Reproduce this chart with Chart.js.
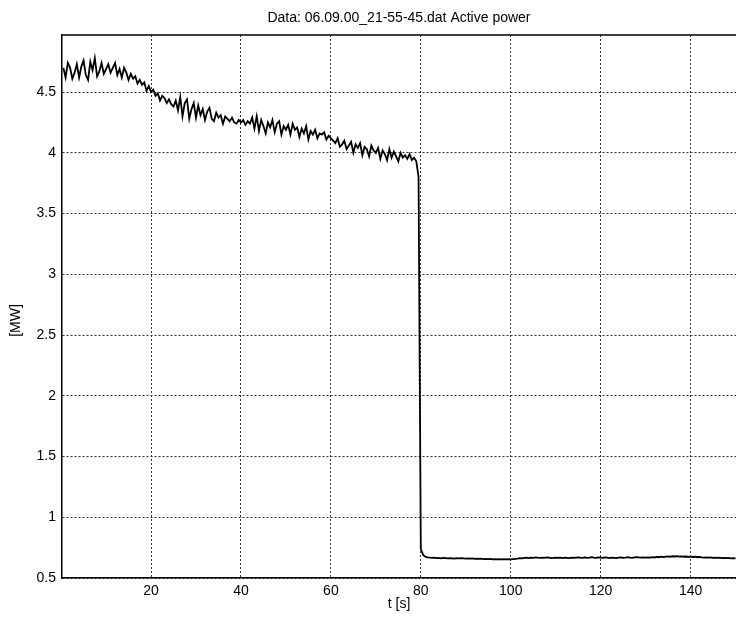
<!DOCTYPE html>
<html>
<head>
<meta charset="utf-8">
<title>Active power</title>
<script src="https://cdn.jsdelivr.net/npm/chart.js@4.4.0/dist/chart.umd.min.js"></script>
<style>
  html, body { margin: 0; padding: 0; background: #fff; overflow: hidden; }
  canvas { display: block; }
</style>
</head>
<body>
<canvas id="power" width="736" height="621"></canvas>
<script>
// sampled every 0.5 s starting at t = 0.5 s
const sampleStart = 0.5;
const sampleStep = 0.5;

// active power [MW], one row = 10 s
const powerValues = [
  4.70, 4.62, 4.74, 4.70, 4.61, 4.66, 4.73, 4.62, 4.71, 4.76, 4.64, 4.60, 4.75, 4.68, 4.78, 4.63, 4.67, 4.74, 4.65, 4.69,
  4.73, 4.66, 4.70, 4.74, 4.64, 4.69, 4.62, 4.70, 4.66, 4.60, 4.65, 4.61, 4.63, 4.57, 4.60, 4.56, 4.58, 4.51, 4.55, 4.50,
  4.52, 4.47, 4.49, 4.43, 4.47, 4.45, 4.41, 4.44, 4.40, 4.38, 4.43, 4.35, 4.46, 4.30, 4.41, 4.44, 4.28, 4.36, 4.41, 4.29,
  4.39, 4.31, 4.36, 4.27, 4.34, 4.37, 4.28, 4.26, 4.33, 4.29, 4.31, 4.24, 4.30, 4.28, 4.26, 4.29, 4.25, 4.24, 4.27, 4.25,
  4.27, 4.23, 4.26, 4.24, 4.29, 4.20, 4.30, 4.18, 4.27, 4.22, 4.16, 4.25, 4.21, 4.27, 4.17, 4.24, 4.26, 4.15, 4.22, 4.19,
  4.23, 4.15, 4.24, 4.19, 4.21, 4.13, 4.20, 4.16, 4.22, 4.11, 4.18, 4.15, 4.19, 4.12, 4.16, 4.15, 4.17, 4.11, 4.14, 4.12,
  4.10, 4.08, 4.12, 4.05, 4.07, 4.10, 4.03, 4.06, 4.09, 4.00, 4.07, 4.04, 4.08, 3.98, 4.05, 4.03, 3.97, 4.06, 4.02, 4.00,
  4.04, 3.95, 4.02, 3.99, 3.94, 4.03, 3.96, 4.01, 3.97, 3.93, 4.00, 3.96, 3.98, 3.95, 3.99, 3.94, 3.96, 3.93, 3.80, 0.74,
  0.69, 0.675, 0.670, 0.668, 0.665, 0.667, 0.664, 0.666, 0.662, 0.665, 0.663, 0.661, 0.664, 0.662, 0.660, 0.663, 0.661, 0.664, 0.662, 0.660,
  0.662, 0.659, 0.661, 0.658, 0.660, 0.657, 0.659, 0.656, 0.658, 0.655, 0.657, 0.654, 0.656, 0.653, 0.655, 0.654, 0.656, 0.653, 0.655, 0.654,
  0.656, 0.658, 0.660, 0.663, 0.661, 0.665, 0.667, 0.664, 0.668, 0.666, 0.670, 0.667, 0.665, 0.668, 0.666, 0.669, 0.667, 0.664, 0.666, 0.668,
  0.665, 0.667, 0.664, 0.668, 0.666, 0.663, 0.667, 0.665, 0.668, 0.670, 0.667, 0.665, 0.669, 0.666, 0.668, 0.671, 0.668, 0.666, 0.670, 0.668,
  0.666, 0.669, 0.667, 0.664, 0.668, 0.666, 0.663, 0.667, 0.669, 0.666, 0.668, 0.671, 0.668, 0.666, 0.669, 0.672, 0.669, 0.667, 0.670, 0.668,
  0.670, 0.668, 0.672, 0.669, 0.673, 0.671, 0.675, 0.672, 0.676, 0.678, 0.675, 0.679, 0.677, 0.680, 0.676, 0.678, 0.675, 0.677, 0.674, 0.676,
  0.673, 0.675, 0.671, 0.673, 0.670, 0.668, 0.670, 0.667, 0.669, 0.666, 0.668, 0.665, 0.667, 0.664, 0.666, 0.663, 0.665, 0.662, 0.664, 0.662
];

const xTicks = [20, 40, 60, 80, 100, 120, 140];
const yTicks = [0.5, 1, 1.5, 2, 2.5, 3, 3.5, 4, 4.5];

const chartTitle = 'Data: 06.09.00_21-55-45.dat Active power';
const yLabel = '[MW]';

const FONT = '"Liberation Sans", Arial, Helvetica, sans-serif';

// matlab style: top frame line, centred title, rotated y label
const matlabFrame = {
  id: 'matlabFrame',
  afterDraw(chart) {
    const { ctx, chartArea: { left, top, right, bottom } } = chart;
    ctx.save();
    ctx.strokeStyle = '#000';
    ctx.lineWidth = 1.5;
    ctx.beginPath();
    ctx.moveTo(left, top);
    ctx.lineTo(right, top);
    ctx.stroke();

    ctx.fillStyle = '#000';
    ctx.font = '14px ' + FONT;
    ctx.textAlign = 'center';
    ctx.textBaseline = 'middle';
    ctx.fillText(chartTitle, (left + right) / 2, 18);

    ctx.translate(16, (top + bottom) / 2 + 14);
    ctx.rotate(-Math.PI / 2);
    ctx.fillText(yLabel, 0, 0);
    ctx.restore();
  }
};

const points = powerValues.map((v, i) => ({ x: sampleStart + i * sampleStep, y: v }));

new Chart(document.getElementById('power'), {
  type: 'line',
  plugins: [ matlabFrame ],
  data: {
    datasets: [{
      label: 'Active power',
      data: points,
      borderColor: '#000',
      borderWidth: 1.8,
      pointRadius: 0,
      tension: 0,
      fill: false
    }]
  },
  options: {
    responsive: false,
    animation: false,
    layout: { padding: { top: 35, left: 0, right: 0, bottom: 0 } },
    plugins: {
      legend: { display: false },
      tooltip: { enabled: false },
      title: { display: false }
    },
    scales: {
      x: {
        type: 'linear',
        min: 0.2,
        max: 150.1,
        afterFit(scale) { scale.height = 43; },
        afterBuildTicks(scale) { scale.ticks = xTicks.map(v => ({ value: v })); },
        ticks: {
          color: '#000',
          font: { family: FONT, size: 14 },
          padding: 5,
          maxRotation: 0,
          callback: v => String(v)
        },
        grid: { color: '#333', lineWidth: 1, drawTicks: false },
        border: { display: true, color: '#000', width: 1.5, dash: [2, 2] },
        title: {
          display: true,
          text: 't [s]',
          color: '#000',
          font: { family: FONT, size: 14 },
          padding: { top: 0, bottom: 8 }
        }
      },
      y: {
        type: 'linear',
        min: 0.5,
        max: 4.97,
        afterFit(scale) { scale.width = 62; },
        afterBuildTicks(scale) { scale.ticks = yTicks.map(v => ({ value: v })); },
        ticks: {
          color: '#000',
          font: { family: FONT, size: 14 },
          padding: 6,
          callback: v => String(v)
        },
        grid: { color: '#333', lineWidth: 1, drawTicks: false },
        border: { display: true, color: '#000', width: 1.5, dash: [2, 2] }
      }
    }
  }
});
</script>
</body>
</html>
